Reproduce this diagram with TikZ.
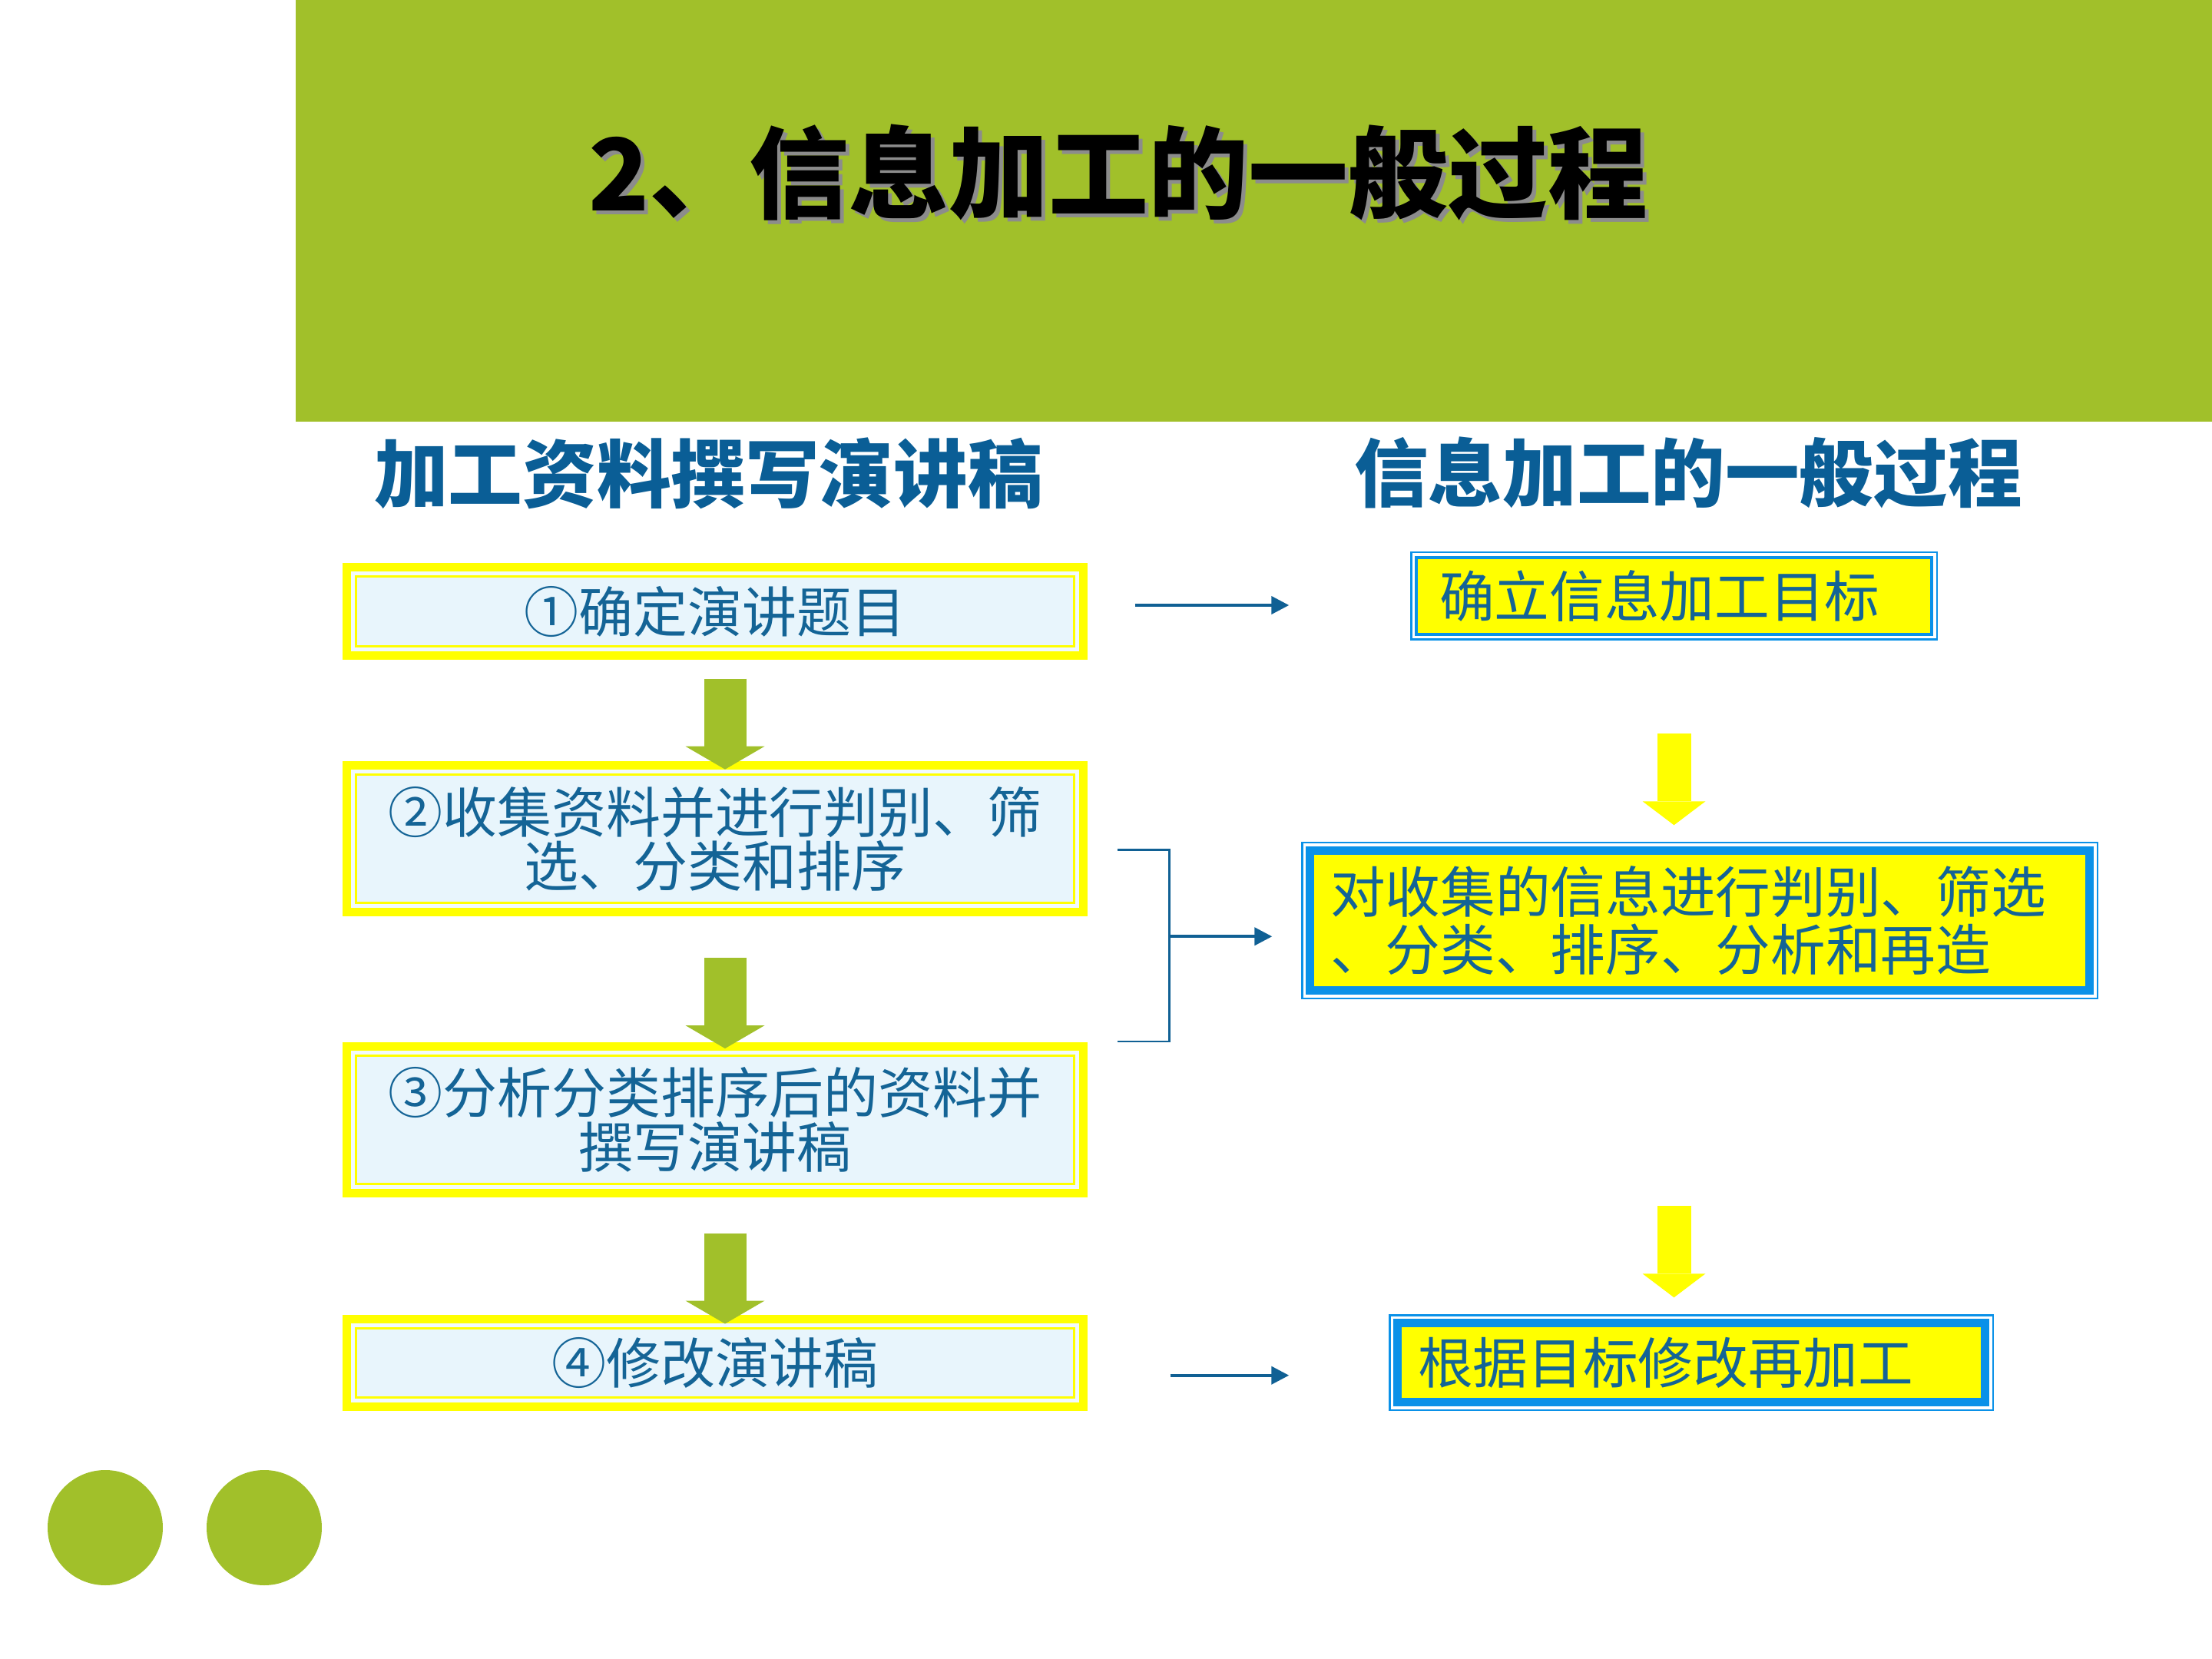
\documentclass[tikz,border=0pt]{standalone}
\usepackage{fontspec}
\newfontfamily\cjk{Noto Sans CJK SC}
\usetikzlibrary{calc}
\usetikzlibrary{arrows.meta}
\usetikzlibrary{positioning}
\definecolor{hdrgreen}{RGB}{161,192,42}
\definecolor{boxyellow}{RGB}{255,255,0}
\definecolor{paleblue}{RGB}{232,245,252}
\definecolor{gapblue}{RGB}{242,250,253}
\definecolor{rblue}{RGB}{10,145,232}
\definecolor{txtblue}{RGB}{20,100,150}
\definecolor{headblue}{RGB}{10,94,150}
\definecolor{connblue}{RGB}{16,96,148}

\begin{document}
\begin{tikzpicture}[every node/.style={inner sep=0pt, font=\cjk},
 lbox/.style={fill=boxyellow, minimum width=9.7cm, text=txtblue, align=center,
  font=\cjk\fontsize{20.2}{20}\selectfont,
  path picture={
   \fill[gapblue] ([shift={(0.11,0.11)}]path picture bounding box.south west) rectangle ([shift={(-0.11,-0.11)}]path picture bounding box.north east);
   \draw[boxyellow, line width=0.03cm, fill=paleblue] ([shift={(0.175,0.175)}]path picture bounding box.south west) rectangle ([shift={(-0.175,-0.175)}]path picture bounding box.north east);
  }},
 rbox/.style={fill=rblue, text=txtblue, align=left, inner xsep=0.38cm,
  font=\cjk\fontsize{20.4}{21.3}\selectfont,
  path picture={
   \fill[white] ([shift={(0.025,0.025)}]path picture bounding box.south west) rectangle ([shift={(-0.025,-0.025)}]path picture bounding box.north east);
   \fill[rblue] ([shift={(0.06,0.06)}]path picture bounding box.south west) rectangle ([shift={(-0.06,-0.06)}]path picture bounding box.north east);
   \fill[boxyellow] ([shift={(#1,#1)}]path picture bounding box.south west) rectangle ([shift={(-#1,-#1)}]path picture bounding box.north east);
  }},
 garrow/.style={hdrgreen, line width=0.55cm, -{Triangle[width=1.03cm,length=0.3cm,line width=0pt]}},
 yarrow/.style={boxyellow, line width=0.44cm, -{Triangle[width=0.82cm,length=0.31cm,line width=0pt]}},
 conn/.style={connblue, line width=0.04cm, -{Triangle[width=0.23cm,length=0.23cm]}},
 brk/.style={connblue, line width=0.027cm}
]
\tikzstyle{heading}=[text=headblue, font=\cjk\bfseries\fontsize{27.5}{30}\selectfont];
\tikzstyle{hdrtitle}=[font=\cjk\bfseries\fontsize{37}{40}\selectfont];
\useasboundingbox (0,0) rectangle (28.8,-21.6);
\fill[white] (0,0) rectangle (28.8,-21.6);
\fill[hdrgreen] (3.85,0) rectangle (28.8,-5.49);
\fill[hdrgreen] (1.37,-19.89) circle (0.75);
\fill[hdrgreen] (3.44,-19.89) circle (0.75);

\node[hdrtitle, text=black!45] (titleshade) at (14.61,-2.30) {2、信息加工的一般过程};
\node[hdrtitle] (title) at (14.56,-2.25) {2、信息加工的一般过程};

\node[heading] (lhead) at (9.22,-6.16) {加工资料撰写演讲稿};
\node[heading] (rhead) at (21.98,-6.15) {信息加工的一般过程};

\node[lbox, minimum height=1.26cm] (box1) at (9.31,-7.96) {①确定演讲题目};
\node[lbox, minimum height=2.02cm, below=1.31cm of box1] (box2) {②收集资料并进行判别、筛\\选、分类和排序};
\node[lbox, minimum height=2.02cm, below=1.62cm of box2] (box3) {③分析分类排序后的资料并\\撰写演讲稿};
\node[lbox, minimum height=1.25cm, below=1.52cm of box3] (box4) {④修改演讲稿};

\node[rbox=0.10, text width=6.11cm, minimum height=1.16cm] (rt1) at (21.795,-7.76) {确立信息加工目标};
\node[rbox=0.17, text width=9.62cm, minimum height=2.05cm] (rt2) at (22.13,-11.985) {对收集的信息进行判别、筛选\\、分类、排序、分析和再造};
\node[rbox=0.17, text width=7.12cm, minimum height=1.26cm] (rt3) at (22.02,-17.74) {根据目标修改再加工};

\draw[garrow, shorten <=0.24cm] ([xshift=0.13cm]box1.south) -- ([xshift=0.13cm,yshift=-0.11cm]box2.north);
\draw[garrow, shorten <=0.53cm] ([xshift=0.13cm]box2.south) -- ([xshift=0.13cm,yshift=-0.09cm]box3.north);
\draw[garrow, shorten <=0.46cm] ([xshift=0.13cm]box3.south) -- ([xshift=0.13cm,yshift=-0.12cm]box4.north);

\draw[yarrow, shorten <=1.20cm] (rt1.south) -- ([yshift=0.21cm]rt1.south |- rt2.north);
\draw[yarrow, shorten <=2.68cm] (rt1.south |- rt2.south) -- ([yshift=0.21cm]rt1.south |- rt3.north);

\coordinate (a1) at ([yshift=0.08cm]box1.east);
\draw[conn, shorten <=0.61cm, shorten >=1.57cm] (a1) -- (a1 -| rt1.west);

\coordinate (brtop) at ([xshift=0.38cm,yshift=-0.14cm]box2.east);
\coordinate (brbot) at (brtop |- box3.north);
\draw[brk] (brtop) -- ++(0.68,0) coordinate (brc) -- (brc |- brbot) -- (brbot);
\coordinate (brmid) at ([yshift=0.12cm]$(brc)!0.5!(brc |- brbot)$);
\draw[conn, shorten >=0.37cm] (brmid) -- (brmid -| rt2.west);

\coordinate (a3) at ([yshift=-0.16cm]box4.east);
\draw[conn, shorten <=1.07cm, shorten >=1.29cm] (a3) -- (a3 -| rt3.west);
\end{tikzpicture}
\end{document}
